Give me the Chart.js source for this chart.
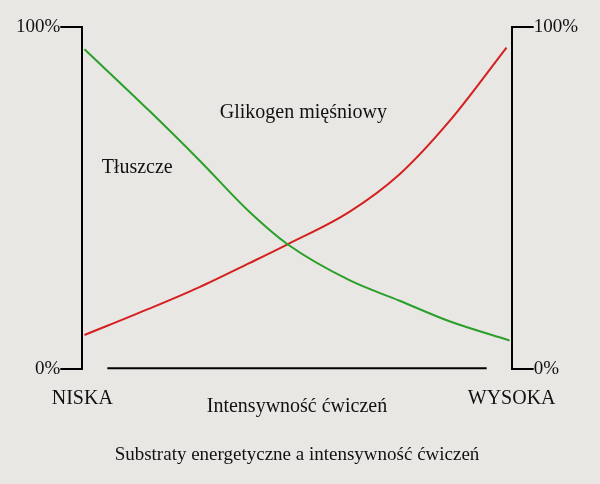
<!DOCTYPE html>
<html><head><meta charset="utf-8">
<script src="https://cdn.jsdelivr.net/npm/chart.js@4/dist/chart.umd.min.js"></script>
<style>html,body{margin:0;background:#e9e7e3;}#w{width:600px;height:484px;}</style>
</head><body><div id="w"><canvas id="c"></canvas></div>
<script>
const fatX = [0.5, 15.6, 27.3, 38.9, 47.8, 62.2, 73.9, 85.5, 99.5];
const fatY = [93.5, 75.5, 61, 46, 36.5, 26, 20, 14, 8.4];
const glyX = [0.5, 15.6, 27.3, 38.9, 47.8, 62.2, 73.9, 85.5, 98.8];
const glyY = [10, 17.7, 24, 31, 36.5, 46, 57, 72.5, 94];
const seriesNames = ['Tłuszcze', 'Glikogen mięśniowy'];
const xTickLabels = ['NISKA', 'WYSOKA'];
const xTitle = 'Intensywność ćwiczeń';
const chartTitle = 'Substraty energetyczne a intensywność ćwiczeń';
const F = "'Liberation Serif', serif";
const pts = (xs, ys) => xs.map((x, i) => ({x, y: ys[i]}));
const deco = {
  id: 'deco',
  afterDraw(ch) {
    const c = ch.ctx, a = ch.chartArea, xs = ch.scales.x, ys = ch.scales.y;
    c.save();
    c.strokeStyle = '#000'; c.lineWidth = 2;
    c.beginPath(); c.moveTo(a.left + 25, a.bottom - 1); c.lineTo(a.right - 25, a.bottom - 1); c.stroke();
    c.fillStyle = '#111'; c.font = '20px ' + F; c.textBaseline = 'middle';
    c.textAlign = 'left';
    c.fillText(seriesNames[0], xs.getPixelForValue(4.5), ys.getPixelForValue(59));
    c.fillText(seriesNames[1], xs.getPixelForValue(32), ys.getPixelForValue(75));
    c.restore();
  }
};
new Chart(document.getElementById('c'), {
  type: 'line',
  data: { datasets: [
    { data: pts(fatX, fatY), borderColor: '#2aa02a', borderWidth: 2, pointRadius: 0, tension: 0.4, cubicInterpolationMode: 'monotone' },
    { data: pts(glyX, glyY), borderColor: '#d42020', borderWidth: 2, pointRadius: 0, tension: 0.4, cubicInterpolationMode: 'monotone' }
  ]},
  options: {
    animation: false, responsive: true, maintainAspectRatio: false,
    layout: { padding: { left: 16, right: 22, top: 27, bottom: 14 } },
    plugins: { legend: { display: false }, tooltip: { enabled: false },
      title: { display: true, position: 'bottom', text: chartTitle, color: '#111', font: { family: F, size: 19, weight: 'normal' }, padding: { top: 20, bottom: 4 } } },
    scales: {
      x: { type: 'linear', min: 0, max: 100,
        afterBuildTicks: s => { s.ticks = [{value: 0}, {value: 100}]; },
        ticks: { callback: v => v === 0 ? xTickLabels[0] : xTickLabels[1], color: '#111', font: { family: F, size: 20 }, padding: 10, maxRotation: 0 },
        grid: { display: false }, border: { display: false },
        title: { display: true, text: xTitle, color: '#111', font: { family: F, size: 20 }, padding: { top: -26 } } },
      y: { position: 'left', min: 0, max: 100,
        afterBuildTicks: s => { s.ticks = [{value: 0}, {value: 100}]; },
        ticks: { callback: v => v + '%', color: '#111', font: { family: F, size: 19 }, padding: 0 },
        grid: { drawOnChartArea: false, color: '#000', lineWidth: 2, tickLength: 22 },
        border: { color: '#000', width: 2 } },
      y2: { position: 'right', min: 0, max: 100,
        afterBuildTicks: s => { s.ticks = [{value: 0}, {value: 100}]; },
        ticks: { callback: v => v + '%', color: '#111', font: { family: F, size: 19 }, padding: 0 },
        grid: { drawOnChartArea: false, color: '#000', lineWidth: 2, tickLength: 22 },
        border: { color: '#000', width: 2 } }
    }
  },
  plugins: [deco]
});
</script></body></html>
